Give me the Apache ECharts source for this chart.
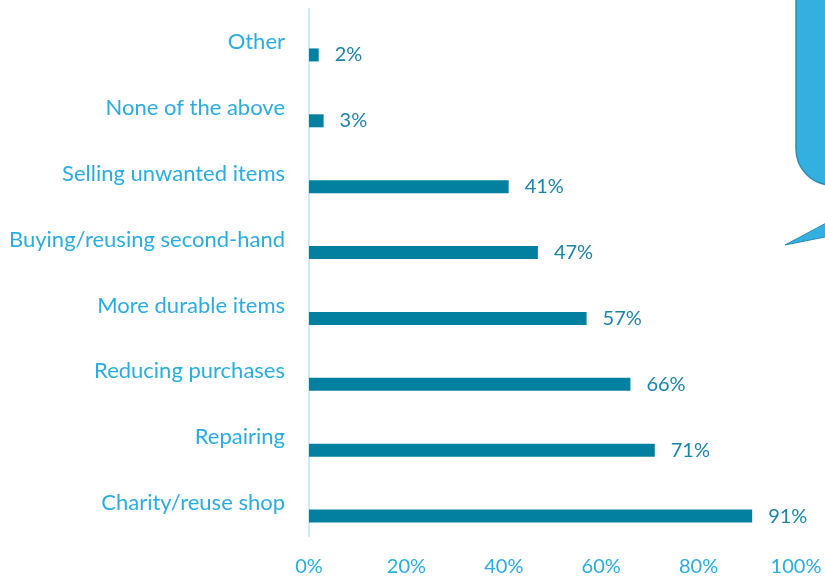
<!DOCTYPE html>
<html>
<head>
<meta charset="utf-8">
<script src="https://cdn.jsdelivr.net/npm/echarts@6/dist/echarts.min.js"></script>
<style>
  html, body { margin: 0; padding: 0; background: #fff; }
  #chart { width: 825px; height: 579px; }
</style>
</head>
<body>
<div id="chart"></div>
<script>
// bottom to top, as ECharts draws a y category axis
var categories = ['Charity/reuse shop', 'Repairing', 'Reducing purchases', 'More durable items',
  'Buying/reusing second-hand', 'Selling unwanted items', 'None of the above', 'Other'];
var shares = [91, 71, 66, 57, 47, 41, 3, 2];
var xTicks = [0, 20, 40, 60, 80, 100];

var font = 'Lato';
var chart = echarts.init(document.getElementById('chart'));
var option = {
  animation: false,
  grid: { left: 309, right: 29, top: 9, bottom: 43 },
  xAxis: {
    type: 'value',
    min: xTicks[0],
    max: xTicks[xTicks.length - 1],
    interval: xTicks[1] - xTicks[0],
    axisLine: { show: false },
    axisTick: { show: false },
    splitLine: { show: false },
    axisLabel: {
      formatter: '{value}%',
      color: '#2BACE0',
      fontFamily: font,
      fontSize: 20,
      margin: 21
    }
  },
  yAxis: {
    type: 'category',
    data: categories,
    axisLine: { show: true, lineStyle: { color: '#CDEBF7', width: 2 } },
    axisTick: { show: false },
    axisLabel: {
      color: '#2BACE0',
      fontFamily: font,
      fontSize: 22,
      margin: 24
    }
  },
  series: [
    {
      // empty series, only pushes the real bars below the label line
      name: 'spacer',
      type: 'bar',
      barWidth: 13,
      barGap: '100%',
      silent: true,
      data: []
    },
    {
      name: 'Share',
      type: 'bar',
      barWidth: 13,
      barGap: '100%',
      data: shares,
      itemStyle: { color: '#03809F' },
      label: {
        show: true,
        position: 'right',
        distance: 16,
        formatter: '{c}%',
        color: '#1B84A8',
        fontFamily: font,
        fontSize: 20
      }
    }
  ],
  graphic: [
    {
      type: 'rect',
      shape: { x: 796, y: -60, width: 80, height: 245, r: 36 },
      style: { fill: '#33B0E0', stroke: '#2A8DB5', lineWidth: 1.5 }
    },
    {
      type: 'polygon',
      shape: { points: [[785, 245], [830, 221], [830, 236]] },
      style: { fill: '#33B0E0', stroke: '#2A8DB5', lineWidth: 1 }
    }
  ]
};
chart.setOption(option);
</script>
</body>
</html>
